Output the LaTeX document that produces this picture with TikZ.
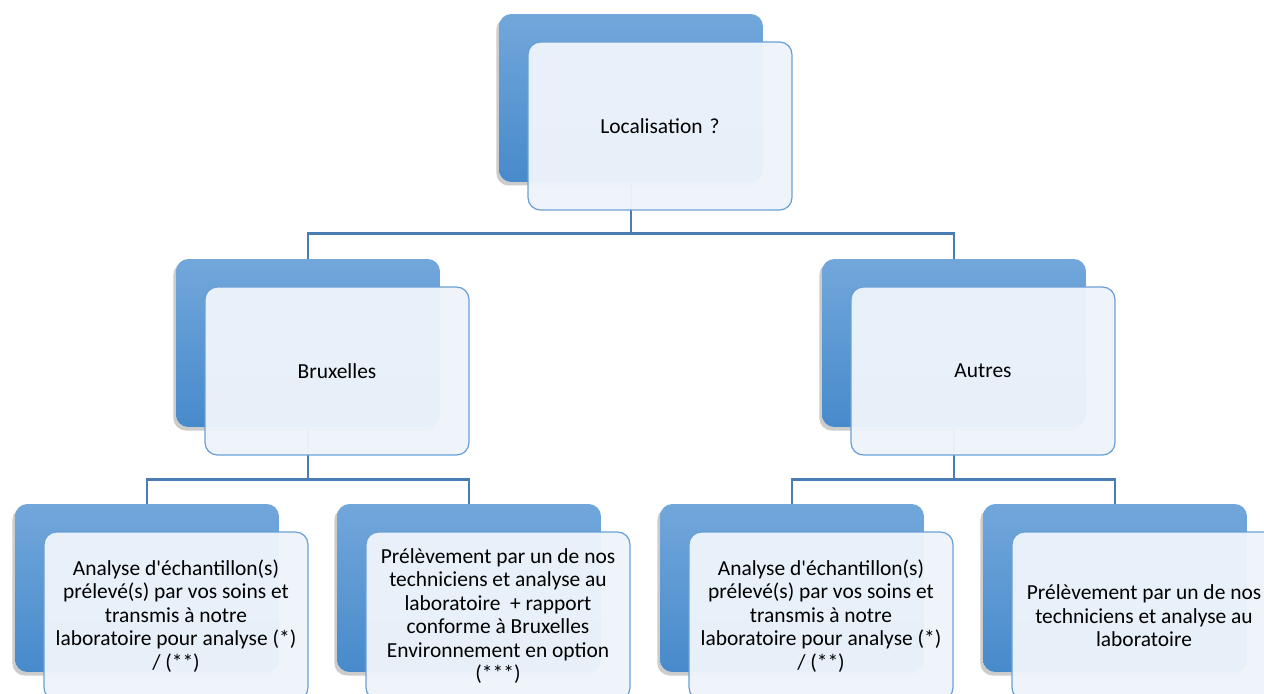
\documentclass[tikz,border=0pt]{standalone}
\usepackage{fontspec}
\setmainfont{Carlito}[Ligatures=TeXOff]
\usetikzlibrary{shadows,backgrounds}
\definecolor{boxtop}{HTML}{72A7DB}
\definecolor{boxbot}{HTML}{478ACB}
\definecolor{cardfill}{HTML}{EEF4FB}
\definecolor{cardline}{HTML}{6A9FD6}
\definecolor{linkblue}{HTML}{4A7DB4}

\begin{document}
\begin{tikzpicture}[x=0.02cm, y=-0.02cm,
    backbox/.style={rounded corners=7pt, minimum width=5.28cm, minimum height=3.36cm,
        top color=boxtop, bottom color=boxbot, draw=none,
        drop shadow={shadow xshift=-1.5pt, shadow yshift=-2pt, opacity=0.4}},
    card/.style={rounded corners=7pt, minimum width=5.28cm, minimum height=3.36cm,
        draw=cardline, line width=0.7pt, fill=cardfill, fill opacity=0.96, text opacity=1,
        align=center, font=\fontsize{12.2}{13.4}\selectfont},
    link/.style={draw=linkblue, line width=1.6pt}]
            \useasboundingbox (0,0) rectangle (1264,693);
            \clip (0,0) rectangle (1264,693);

            % level 1
            \node[backbox] (locB) at (631,98) {};
            \node[card] (loc) at (660,126) {Localisation\,\,?};

            % level 2
            \node[backbox] (bruB) at (308,343) {};
            \node[card] (bru) at (337,371) {Bruxelles};

            \node[backbox] (autB) at (954,343) {};
            \node[card] (aut) at (983,371) {Autres};

            % level 3
            \node[backbox] (bru1B) at (147,588) {};
            \node[card] (bru1) at (176,616) {Analyse d'échantillon(s)\\prélevé(s) par vos soins et\\transmis à notre\\laboratoire pour analyse (*)\\/ (**)};

            \node[backbox] (bru2B) at (469,588) {};
            \node[card] (bru2) at (498,616) {Prélèvement par un de nos\\techniciens et analyse au\\laboratoire \ + rapport\\conforme à Bruxelles\\Environnement en option\\(***)};

            \node[backbox] (aut1B) at (792,588) {};
            \node[card] (aut1) at (821,616) {Analyse d'échantillon(s)\\prélevé(s) par vos soins et\\transmis à notre\\laboratoire pour analyse (*)\\/ (**)};

            \node[backbox] (aut2B) at (1115,588) {};
            \node[card] (aut2) at (1144,616) {Prélèvement par un de nos\\techniciens et analyse au\\laboratoire};

            % connectors behind the boxes
            \begin{scope}[on background layer]
            \draw[link] (locB.south) -- ++(0,51) -| (bruB.north);
            \draw[link] (locB.south) -- ++(0,51) -| (autB.north);
            \draw[link] (bruB.south) -- ++(0,52) -| (bru1B.north);
            \draw[link] (bruB.south) -- ++(0,52) -| (bru2B.north);
            \draw[link] (autB.south) -- ++(0,52) -| (aut1B.north);
            \draw[link] (autB.south) -- ++(0,52) -| (aut2B.north);
            \end{scope}
        \end{tikzpicture}
\end{document}
